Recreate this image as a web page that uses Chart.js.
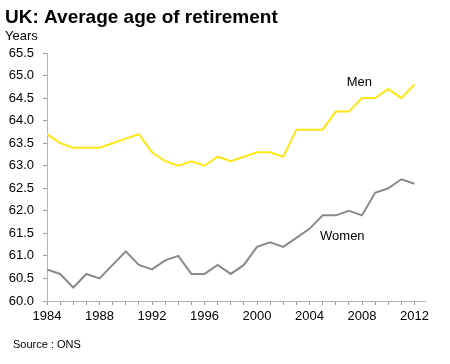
<!DOCTYPE html>
<html>
<head>
<meta charset="utf-8">
<script src="https://cdn.jsdelivr.net/npm/chart.js@4.4.0/dist/chart.umd.min.js"></script>
<style>
  html, body { margin: 0; padding: 0; background: #fff; }
  #wrap { width: 450px; height: 364px; position: relative; }
</style>
</head>
<body>
<div id="wrap"><canvas id="myChart" width="450" height="364"></canvas></div>
<script>
// datos
let years = [];
for (let y = 1984; y <= 2012; y++) years.push(y);

let men = [63.7,63.5,63.4,63.4,63.4,63.5,63.6,63.7,63.3,63.1,63.0,63.1,63.0,63.2,63.1,
           63.2,63.3,63.3,63.2,63.8,63.8,63.8,64.2,64.2,64.5,64.5,64.7,64.5,64.8];
let women = [60.7,60.6,60.3,60.6,60.5,60.8,61.1,60.8,60.7,60.9,61.0,60.6,60.6,60.8,60.6,
             60.8,61.2,61.3,61.2,61.4,61.6,61.9,61.9,62.0,61.9,62.4,62.5,62.7,62.6];

let yMin = 60.0, yMax = 65.5, yStep = 0.5;
let xLabelYears = [1984,1988,1992,1996,2000,2004,2008,2012];

let seriesLabels = [
  {text: "Men", x: 2007.8, y: 64.84},
  {text: "Women", x: 2006.5, y: 61.44}
];

const font = "'Liberation Sans', Arial, sans-serif";

// texto fijo: titulo, unidad, fuente, y etiquetas de las series
const textPlugin = {
  id: "textos",
  afterDraw(chart) {
    const c = chart.ctx;
    c.save();
    c.fillStyle = "#000";
    c.textAlign = "left";
    c.textBaseline = "alphabetic";
    c.font = "bold 19px " + font;
    c.fillText("UK: Average age of retirement", 5, 23);
    c.font = "13px " + font;
    c.fillText("Years", 5, 40);
    c.font = "11px " + font;
    c.fillText("Source : ONS", 13, 348);

    c.font = "13px " + font;
    c.textAlign = "center";
    c.textBaseline = "middle";
    seriesLabels.forEach(l => {
      c.fillText(l.text, chart.scales.x.getPixelForValue(l.x), chart.scales.y.getPixelForValue(l.y));
    });
    c.restore();
  }
};

const data = {
  datasets: [
    {
      label: "Men",
      data: years.map((y, i) => ({x: y, y: men[i]})),
      borderColor: "#FFE617",
      borderWidth: 2,
      pointRadius: 0,
      tension: 0
    },
    {
      label: "Women",
      data: years.map((y, i) => ({x: y, y: women[i]})),
      borderColor: "#8a8a8a",
      borderWidth: 2,
      pointRadius: 0,
      tension: 0
    }
  ]
};

const config = {
  type: "line",
  data: data,
  options: {
    responsive: false,
    animation: false,
    layout: { padding: { left: 0, top: 53, right: 25, bottom: 0 } },
    plugins: { legend: { display: false }, tooltip: { enabled: false } },
    scales: {
      x: {
        type: "linear",
        min: 1984,
        max: 2012.8,
        afterBuildTicks: s => { s.ticks = s.ticks.filter(t => Number.isInteger(t.value)); },
        afterFit: s => { s.height = 63; },
        border: { display: true, color: "#b5b5b5", width: 1 },
        grid: { drawOnChartArea: false, drawTicks: true, tickLength: 4, color: "#9a9a9a" },
        ticks: {
          stepSize: 1,
          includeBounds: false,
          autoSkip: false,
          maxRotation: 0,
          padding: 4,
          color: "#000",
          font: { family: font, size: 13 },
          callback: v => xLabelYears.includes(v) ? String(v) : ""
        }
      },
      y: {
        min: yMin,
        max: yMax,
        afterFit: s => { s.width = 47; },
        border: { display: true, color: "#b5b5b5", width: 1 },
        grid: { drawOnChartArea: false, drawTicks: true, tickLength: 4, color: "#9a9a9a" },
        ticks: {
          stepSize: yStep,
          padding: 9,
          color: "#000",
          font: { family: font, size: 13 },
          callback: v => Number(v).toFixed(1)
        }
      }
    }
  },
  plugins: [textPlugin]
};

new Chart(document.getElementById("myChart"), config);
</script>
</body>
</html>
